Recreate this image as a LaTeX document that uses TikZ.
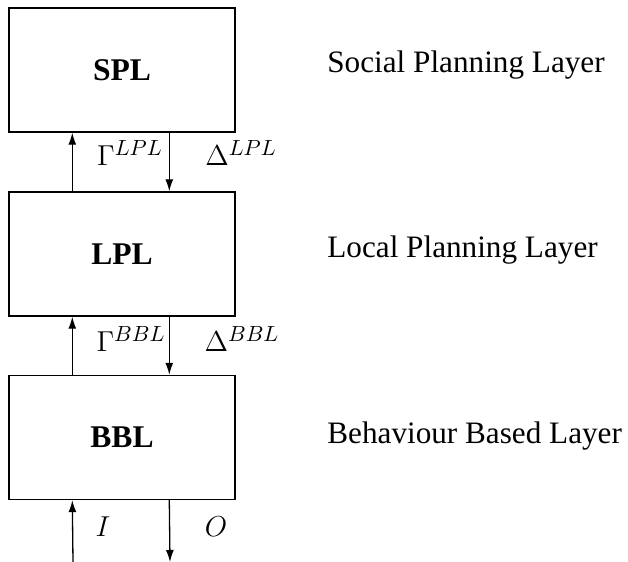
\documentclass[tikz,border=0pt]{standalone}
\usepackage{fontspec}
\setmainfont{Liberation Serif}
\usepackage{amsmath}
\usetikzlibrary{arrows.meta,positioning}

\tikzset{
  layer/.style={draw, line width=0.7pt, minimum width=113pt, minimum height=62pt,
    inner sep=0pt, font=\fontsize{15.8}{18}\selectfont\bfseries},
  layername/.style={anchor=base west, inner sep=0pt, font=\fontsize{15.6}{18}\selectfont},
  flow/.style={line width=0.65pt, -{Latex[length=6pt,width=4pt]}},
  sig/.style={inner sep=0pt, font=\fontsize{15.8}{18}\selectfont}
}

\begin{document}
\begin{tikzpicture}[x=0.5pt,y=-0.5pt]
      \useasboundingbox (0,0) rectangle (628,562);
      % layers
      \node[layer] (spl) at (122,70) {SPL};
      \node[layer] (lpl) at (122,254) {LPL};
      \node[layer] (bbl) at (122,437.5) {BBL};
      % names of the layers
      \node[layername] (nspl) at (327,72) {Social Planning Layer};
      \node[layername] (nlpl) at (327,257) {Local Planning Layer};
      \node[layername] (nbbl) at (327,443) {Behaviour Based Layer};
      % signals between the layers
      \draw[flow] ([xshift=32pt]lpl.north west) -- ([xshift=32pt]spl.south west);
      \draw[flow] ([xshift=80.5pt]spl.south west) -- ([xshift=80.5pt]lpl.north west);
      \draw[flow] ([xshift=32pt]bbl.north west) -- ([xshift=32pt]lpl.south west);
      \draw[flow] ([xshift=80.5pt]lpl.south west) -- ([xshift=80.5pt]bbl.north west);
      \node[sig] (glpl) at (130,153) {$\Gamma^{LPL}$};
      \node[sig] (dlpl) at (241,153) {$\Delta^{LPL}$};
      \node[sig] (gbbl) at (131,339) {$\Gamma^{BBL}$};
      \node[sig] (dbbl) at (242,339) {$\Delta^{BBL}$};
      % input and output
      \coordinate (in) at (73,562);
      \coordinate (out) at (170,562);
      \draw[flow] (in) -- ([xshift=32pt]bbl.south west);
      \draw[flow] ([xshift=80.5pt]bbl.south west) -- (out);
      \node[sig] (i) at (103,527) {$I$};
      \node[sig] (o) at (216,527) {$O$};
\end{tikzpicture}
\end{document}
